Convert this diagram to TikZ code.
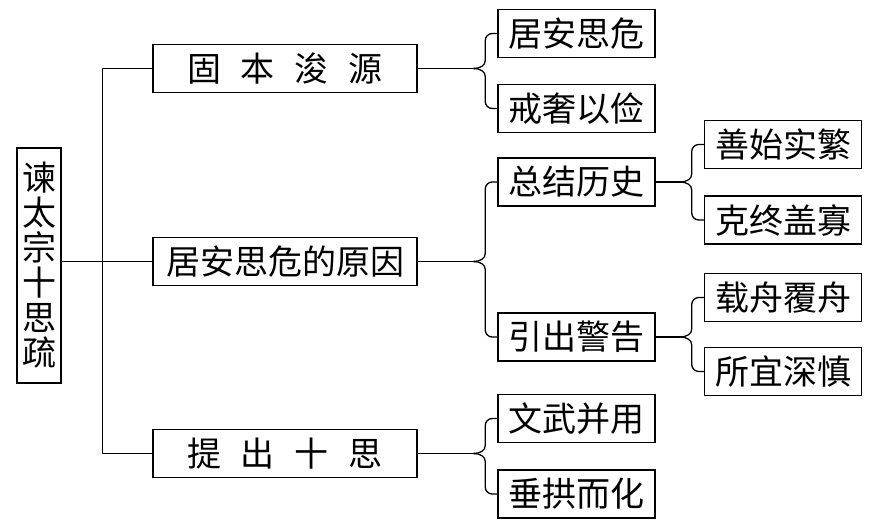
\documentclass[tikz,border=0pt]{standalone}
\usepackage{fontspec}
\newfontfamily\cjk{Noto Sans CJK SC}
\usetikzlibrary{calc}
\newcommand{\zigap}{\hspace{20pt}}
% parent -> brace -> two children
\newcommand{\bracelink}[3]{%
  \draw (#1.east) -- ($(#2.west |- #1.east)+(-24,0)$) coordinate (tip);
  \draw (tip) .. controls +(7,0) and +(0,5) .. ++(12,-8) [rounded corners=7pt] |- (#2.west);
  \draw (tip) .. controls +(7,0) and +(0,-5) .. ++(12,8) [rounded corners=7pt] |- (#3.west);
}

\begin{document}
\begin{tikzpicture}[x=1pt,y=-1pt,line width=1.3pt,
  box/.style={draw,line width=1.5pt,inner sep=0pt,minimum height=48pt,font=\cjk\fontsize{34}{34}\selectfont},
  main/.style={box,minimum width=264pt},
  leaf/.style={box,minimum width=157pt}]
\useasboundingbox (0,0) rectangle (879,529);

    \node[box,minimum width=44pt,minimum height=235pt,align=center,
      font=\cjk\fontsize{34}{35}\selectfont] (root) at (39,265.5) {谏\\太\\宗\\十\\思\\疏};

    \node[main] (gbjy) at (285,68.5) {固\zigap 本\zigap 浚\zigap 源};
    \node[main] (yuanyin) at (285,261.5) {居安思危的原因};
    \node[main] (tcss) at (285,453.5) {提\zigap 出\zigap 十\zigap 思};

    \node[leaf] (jasw) at (576.5,33.5) {居安思危};
    \node[leaf] (jsyj) at (576.5,108.5) {戒奢以俭};
    \node[leaf] (zjls) at (576.5,182) {总结历史};
    \node[leaf] (ycjg) at (576.5,337) {引出警告};
    \node[leaf] (wwby) at (576.5,418.5) {文武并用};
    \node[leaf] (cgeh) at (576.5,494) {垂拱而化};
    \node[leaf] (ssfs) at (783,144.5) {善始实繁};
    \node[leaf] (kzgg) at (783,220) {克终盖寡};
    \node[leaf] (zzfz) at (783,297.5) {载舟覆舟};
    \node[leaf] (sysx) at (783,371.5) {所宜深慎};

    % trunk
    \draw (root.east |- yuanyin.west) -- (yuanyin.west);
    \draw (gbjy.west) -- ++(-50,0) |- (tcss.west);

    % braces
    \bracelink{gbjy}{jasw}{jsyj}
    \bracelink{yuanyin}{zjls}{ycjg}
    \bracelink{tcss}{wwby}{cgeh}
    \bracelink{zjls}{ssfs}{kzgg}
    \bracelink{ycjg}{zzfz}{sysx}

\end{tikzpicture}
\end{document}
